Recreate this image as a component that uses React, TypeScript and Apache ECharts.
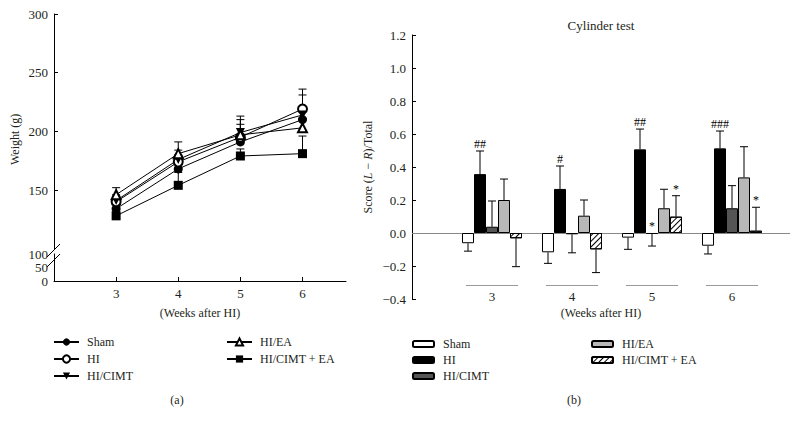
import React, { useEffect, useRef } from 'react';
import * as echarts from 'echarts';

const FONT = '"Liberation Serif", "DejaVu Serif", serif';
const TXT = '#231f20';

// ---- shared
const weeks = [3, 4, 5, 6];
const groupNames = ['Sham', 'HI', 'HI/CIMT', 'HI/EA', 'HI/CIMT + EA'];

// ---- (a) body weight (g)
const weightSham = [134, 168, 191, 210];
const weightHI = [140, 174, 195, 219];
const weightCIMT = [141, 176, 199, 214];
const weightEA = [146, 181, 197, 203];
const weightCIMTEA = [128, 154, 179, 181];
const weightErrSham = [4, 5, 6, 7];
const weightErrHI = [5, 6, 15, 17];
const weightErrCIMT = [5, 8, 14, 17];
const weightErrEA = [6, 10, 9, 8];
const weightErrCIMTEA = [4, 11, 6, 15];
const weightYTicks = [150, 200, 250, 300];
const weightLowTicks = [0, 50, 100];

// ---- (b) cylinder test score
const scoreSham = [-0.062, -0.117, -0.028, -0.077];
const scoreHI = [0.357, 0.267, 0.507, 0.513];
const scoreCIMT = [0.038, -0.008, -0.006, 0.15];
const scoreEA = [0.2, 0.105, 0.15, 0.337];
const scoreCIMTEA = [-0.032, -0.099, 0.099, 0.014];
const scoreErrSham = [0.048, 0.067, 0.071, 0.05];
const scoreErrHI = [0.14, 0.139, 0.123, 0.105];
const scoreErrCIMT = [0.156, 0.112, 0.073, 0.137];
const scoreErrEA = [0.127, 0.095, 0.115, 0.186];
const scoreErrCIMTEA = [0.172, 0.141, 0.127, 0.142];
const sigSham = ['', '', '', ''];
const sigHI = ['##', '#', '##', '###'];
const sigCIMT = ['', '', '*', ''];
const sigEA = ['', '', '', ''];
const sigCIMTEA = ['', '', '*', '*'];

const BAR_W = 12;

export default function App() {
  const ref = useRef<HTMLDivElement>(null);
  useEffect(() => {
    if (!ref.current) return;
    const chart = echarts.init(ref.current, undefined, { renderer: 'svg' });

    const lineGroups = [
      { name: groupNames[0], v: weightSham, e: weightErrSham, symbol: 'circle', rot: 0 },
      { name: groupNames[1], v: weightHI, e: weightErrHI, symbol: 'emptyCircle', rot: 0 },
      { name: groupNames[2], v: weightCIMT, e: weightErrCIMT, symbol: 'triangle', rot: 180 },
      { name: groupNames[3], v: weightEA, e: weightErrEA, symbol: 'emptyTriangle', rot: 0 },
      { name: groupNames[4], v: weightCIMTEA, e: weightErrCIMTEA, symbol: 'rect', rot: 0 },
    ];
    const barGroups = [
      { name: groupNames[0], v: scoreSham, e: scoreErrSham, sig: sigSham, color: '#ffffff' },
      { name: groupNames[1], v: scoreHI, e: scoreErrHI, sig: sigHI, color: '#000000' },
      { name: groupNames[2], v: scoreCIMT, e: scoreErrCIMT, sig: sigCIMT, color: '#555555' },
      { name: groupNames[3], v: scoreEA, e: scoreErrEA, sig: sigEA, color: '#b8b8b8' },
      { name: groupNames[4], v: scoreCIMTEA, e: scoreErrCIMTEA, sig: sigCIMTEA, color: '#ffffff' },
    ];
    const bName = (n: string) => 'b:' + n;

    const lineErrSeries = lineGroups.map((g) => ({
      type: 'custom',
      xAxisIndex: 0,
      yAxisIndex: 0,
      z: 1,
      silent: true,
      itemStyle: { color: '#000' },
      data: weeks.map((w, i) => [w, g.v[i], g.e[i]]),
      encode: { x: 0, y: 1 },
      renderItem: (params: any, api: any) => {
        const x = api.value(0), m = api.value(1), e = api.value(2);
        const p0 = api.coord([x, m]);
        const p1 = api.coord([x, m + e]);
        return {
          type: 'group',
          children: [
            { type: 'line', shape: { x1: p0[0], y1: p0[1], x2: p1[0], y2: p1[1] }, style: { stroke: '#000', lineWidth: 1 } },
            { type: 'line', shape: { x1: p1[0] - 4, y1: p1[1], x2: p1[0] + 4, y2: p1[1] }, style: { stroke: '#000', lineWidth: 1 } },
          ],
        };
      },
    }));

    const lineSeries = lineGroups.map((g) => ({
      type: 'line',
      name: g.name,
      xAxisIndex: 0,
      yAxisIndex: 0,
      z: 2,
      data: weeks.map((w, i) => [w, g.v[i]]),
      symbol: g.symbol,
      symbolRotate: g.rot,
      symbolSize: 9,
      lineStyle: { color: '#000', width: 1 },
      itemStyle: { color: '#000', borderWidth: 1 },
    }));

    const barSeries = barGroups.map((g, gi) => ({
      type: 'bar',
      name: bName(g.name),
      xAxisIndex: 2,
      yAxisIndex: 2,
      barWidth: BAR_W,
      barGap: '0%',
      z: 2,
      data: weeks.map((w, i) => [w, g.v[i]]),
      itemStyle: {
        color: g.color,
        borderColor: '#000',
        borderWidth: 1,
        ...(gi === 4
          ? {
              decal: {
                symbol: 'rect',
                symbolSize: 1,
                dashArrayX: [1, 0],
                dashArrayY: [1, 3],
                rotation: -Math.PI / 4,
                color: '#000',
              },
            }
          : {}),
      },
      ...(gi === 0
        ? {
            markLine: {
              silent: true,
              symbol: 'none',
              label: { show: false },
              lineStyle: { color: '#888', type: 'solid', width: 1 },
              data: [{ yAxis: 0 }],
              z: 1,
            },
          }
        : {}),
    }));

    const barErrSeries = barGroups.map((g, gi) => ({
      type: 'custom',
      xAxisIndex: 2,
      yAxisIndex: 2,
      z: 3,
      silent: true,
      itemStyle: { color: '#000' },
      data: weeks.map((w, i) => [w, g.v[i], g.e[i]]),
      encode: { x: 0, y: 1 },
      renderItem: (params: any, api: any) => {
        const x = api.value(0), m = api.value(1), e = api.value(2);
        const off = (gi - 2) * BAR_W;
        const end = m >= 0 ? m + e : m - e;
        const p0 = api.coord([x, m]);
        const p1 = api.coord([x, end]);
        const z0 = api.coord([x, 0]);
        const cx = p0[0] + off;
        const children: any[] = [
          { type: 'line', shape: { x1: cx, y1: p0[1], x2: cx, y2: p1[1] }, style: { stroke: '#000', lineWidth: 1 } },
          { type: 'line', shape: { x1: cx - 4, y1: p1[1], x2: cx + 4, y2: p1[1] }, style: { stroke: '#000', lineWidth: 1 } },
        ];
        const sig = g.sig[params.dataIndex];
        if (sig) {
          const topY = m >= 0 ? p1[1] : z0[1];
          children.push({
            type: 'text',
            x: cx,
            y: topY - 1,
            style: { text: sig, align: 'center', verticalAlign: 'bottom', font: '12px ' + FONT, fill: '#000' },
          });
        }
        return { type: 'group', children };
      },
    }));

    const axisText = { color: TXT, fontFamily: FONT, fontSize: 13 };

    const option: any = {
      animation: false,
      textStyle: { fontFamily: FONT, color: TXT },
      grid: [
        { left: 54, width: 292, top: 14, height: 234.7 },
        { left: 54, width: 292, top: 254, height: 27 },
        { left: 412, width: 378, top: 35, height: 264 },
      ],
      xAxis: [
        { gridIndex: 0, type: 'value', min: 2, max: 6.7, show: false },
        {
          gridIndex: 1,
          type: 'value',
          min: 2,
          max: 6.7,
          axisLine: { show: true, onZero: false, lineStyle: { color: '#000', width: 1 } },
          axisTick: { show: true, inside: true, length: 4, customValues: weeks, lineStyle: { color: '#000' } },
          axisLabel: { customValues: weeks, margin: 6, ...axisText },
          splitLine: { show: false },
          name: '(Weeks after HI)',
          nameLocation: 'middle',
          nameGap: 26,
          nameMoveOverlap: false,
          nameTextStyle: { ...axisText, fontSize: 12 },
        },
        {
          gridIndex: 2,
          type: 'value',
          min: 2,
          max: 6.725,
          axisLine: { show: false, onZero: false },
          axisTick: { show: false },
          splitLine: { show: false },
          axisLabel: {
            customValues: weeks,
            margin: -14,
            formatter: (v: number) => `{l| }\n{v|${v}}`,
            rich: {
              l: { width: 52, height: 1, lineHeight: 1, fontSize: 1, backgroundColor: '#999' },
              v: { fontSize: 13, lineHeight: 20, fontFamily: FONT, color: TXT },
            },
          },
          name: '(Weeks after HI)',
          nameLocation: 'middle',
          nameGap: 8,
          nameMoveOverlap: false,
          nameTextStyle: { ...axisText, fontSize: 12 },
        },
      ],
      yAxis: [
        {
          gridIndex: 0,
          type: 'value',
          min: 100,
          max: 300,
          interval: 50,
          axisLine: { show: true, onZero: false, lineStyle: { color: '#000', width: 1 } },
          axisTick: { show: true, inside: true, length: 4, customValues: weightYTicks, lineStyle: { color: '#000' } },
          axisLabel: { customValues: weightYTicks, margin: 6, ...axisText },
          splitLine: { show: false },
          name: 'Weight (g)',
          nameLocation: 'middle',
          nameGap: 33,
          nameMoveOverlap: false,
          nameTextStyle: { ...axisText, fontSize: 12, padding: [0, 16, 0, 0] },
        },
        {
          gridIndex: 1,
          type: 'value',
          min: 0,
          max: 100,
          interval: 50,
          axisLine: { show: true, onZero: false, lineStyle: { color: '#000', width: 1 } },
          axisTick: { show: false },
          axisLabel: { customValues: weightLowTicks, margin: 6, ...axisText },
          splitLine: { show: false },
        },
        {
          gridIndex: 2,
          type: 'value',
          min: -0.4,
          max: 1.2,
          interval: 0.2,
          axisLine: { show: true, onZero: false, lineStyle: { color: '#000', width: 1 } },
          axisTick: { show: true, inside: true, length: 4, lineStyle: { color: '#000' } },
          axisLabel: {
            margin: 6,
            ...axisText,
            formatter: (v: number) => (Math.abs(v) < 1e-9 ? '0.0' : v.toFixed(1).replace('-', '\u2212')),
          },
          splitLine: { show: false },
          name: 'Score ({i|L} \u2212 {i|R})/Total',
          nameLocation: 'middle',
          nameGap: 38,
          nameMoveOverlap: false,
          nameTextStyle: {
            ...axisText,
            fontSize: 12,
            rich: { i: { fontStyle: 'italic', fontFamily: FONT, fontSize: 12, color: TXT } },
          },
        },
      ],
      legend: [
        {
          data: groupNames.slice(0, 3),
          orient: 'vertical',
          left: 48,
          top: 330,
          itemWidth: 25,
          itemHeight: 9,
          itemGap: 3,
          selectedMode: false,
          textStyle: { ...axisText, fontSize: 12, lineHeight: 14, padding: [0, 0, 0, 3] },
        },
        {
          data: groupNames.slice(3),
          orient: 'vertical',
          left: 221,
          top: 330,
          itemWidth: 25,
          itemHeight: 9,
          itemGap: 3,
          selectedMode: false,
          textStyle: { ...axisText, fontSize: 12, lineHeight: 14, padding: [0, 0, 0, 3] },
        },
        {
          data: groupNames.slice(0, 3).map(bName),
          orient: 'vertical',
          left: 407,
          top: 332,
          itemWidth: 21,
          itemHeight: 6,
          itemGap: 2,
          selectedMode: false,
          formatter: (n: string) => n.replace(/^b:/, ''),
          textStyle: { ...axisText, fontSize: 12, lineHeight: 14, padding: [0, 0, 0, 4] },
        },
        {
          data: groupNames.slice(3).map(bName),
          orient: 'vertical',
          left: 586,
          top: 332,
          itemWidth: 21,
          itemHeight: 6,
          itemGap: 2,
          selectedMode: false,
          formatter: (n: string) => n.replace(/^b:/, ''),
          textStyle: { ...axisText, fontSize: 12, lineHeight: 14, padding: [0, 0, 0, 4] },
        },
      ],
      graphic: [
        { type: 'text', x: 601, y: 25, style: { text: 'Cylinder test', align: 'center', verticalAlign: 'middle', font: '13px ' + FONT, fill: TXT } },
        { type: 'text', x: 177, y: 400, style: { text: '(a)', align: 'center', verticalAlign: 'middle', font: '12px ' + FONT, fill: TXT } },
        { type: 'text', x: 574, y: 400, style: { text: '(b)', align: 'center', verticalAlign: 'middle', font: '12px ' + FONT, fill: TXT } },
        { type: 'line', shape: { x1: 47, y1: 257, x2: 60, y2: 244 }, style: { stroke: '#000', lineWidth: 1 } },
        { type: 'line', shape: { x1: 47, y1: 267, x2: 60, y2: 254 }, style: { stroke: '#000', lineWidth: 1 } },
      ],
      series: [...lineErrSeries, ...lineSeries, ...barSeries, ...barErrSeries],
    };

    chart.setOption(option);
    return () => chart.dispose();
  }, []);

  return (
    <div
      ref={ref}
      style={{ position: 'fixed', left: 0, top: 0, width: 798, height: 426, background: '#fff' }}
    />
  );
}
